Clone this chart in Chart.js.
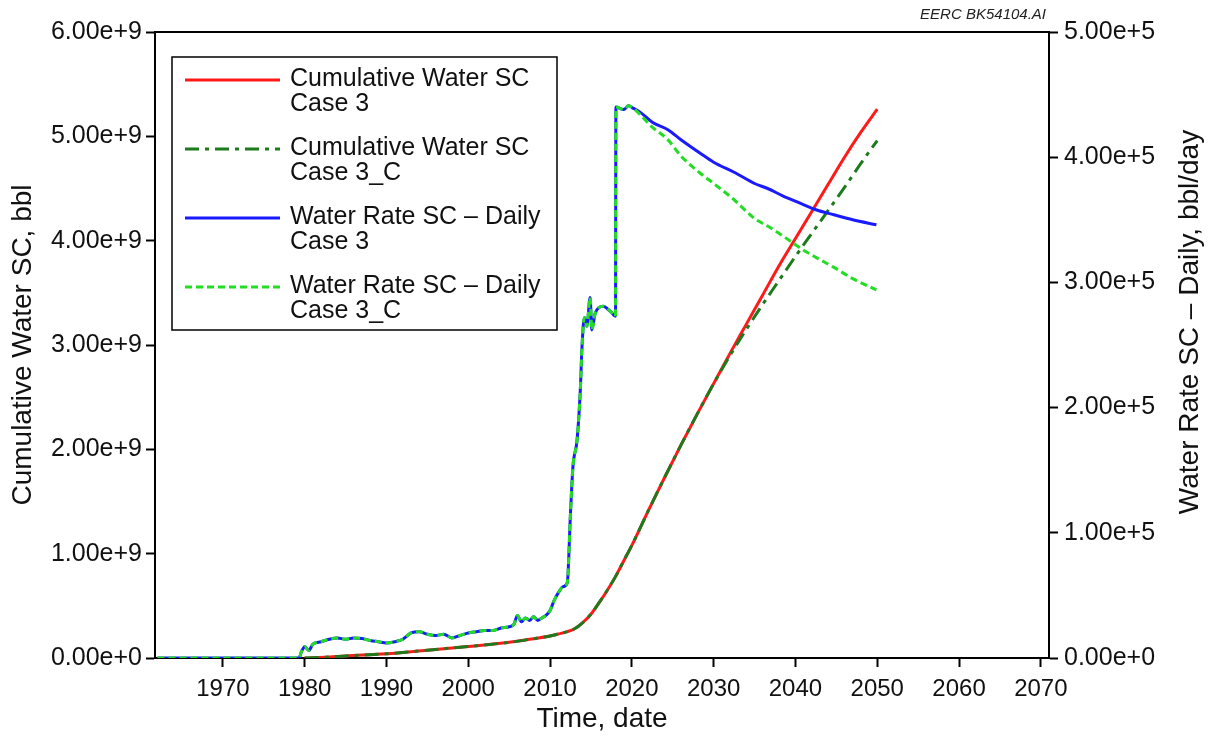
<!DOCTYPE html>
<html lang="en">
<head>
  <meta charset="UTF-8">
  <title>Cumulative Water SC and Water Rate SC</title>
  <script src="https://cdn.jsdelivr.net/npm/chart.js"></script>
  <style>
    html, body { margin: 0; padding: 0; background: #fff; }
    #chart { display: block; }
  </style>
</head>
<body>
  <canvas id="chart" width="1213" height="740"></canvas>

  <script>
    // Cumulative water (left axis, bbl)
    var cumYears = [1980, 1983, 1985, 1990, 1995, 2000, 2005, 2008, 2010, 2011, 2012, 2013, 2014, 2015, 2016, 2017, 2018, 2019, 2020, 2022, 2024, 2026, 2028, 2030, 2032, 2034, 2036, 2038, 2040, 2042, 2044, 2046, 2048, 2050];
    var cumCase3 = [0, 0.01e9, 0.02e9, 0.04e9, 0.075e9, 0.11e9, 0.15e9, 0.185e9, 0.21e9, 0.23e9, 0.25e9, 0.28e9, 0.34e9, 0.42e9, 0.53e9, 0.65e9, 0.78e9, 0.93e9, 1.08e9, 1.41e9, 1.73e9, 2.04e9, 2.34e9, 2.63e9, 2.92e9, 3.20e9, 3.48e9, 3.76e9, 4.02e9, 4.28e9, 4.54e9, 4.80e9, 5.04e9, 5.26e9];
    var cumCase3C = [0, 0.01e9, 0.02e9, 0.04e9, 0.075e9, 0.11e9, 0.15e9, 0.185e9, 0.21e9, 0.23e9, 0.25e9, 0.28e9, 0.34e9, 0.42e9, 0.53e9, 0.65e9, 0.78e9, 0.93e9, 1.08e9, 1.41e9, 1.73e9, 2.04e9, 2.34e9, 2.63e9, 2.90e9, 3.15e9, 3.39e9, 3.62e9, 3.85e9, 4.07e9, 4.29e9, 4.51e9, 4.74e9, 4.96e9];

    // Daily water rate (right axis, bbl/day)
    var rateYears = [1962, 1979.3, 1979.6, 1980, 1980.5, 1981, 1982, 1983, 1984, 1985, 1986, 1987, 1988, 1989, 1990, 1991, 1992, 1993, 1994, 1995, 1996, 1997, 1998, 1999, 2000, 2001, 2002, 2003, 2004, 2005, 2005.6, 2006, 2006.5, 2007, 2007.5, 2008, 2008.5, 2009, 2009.5, 2010, 2010.5, 2011, 2011.6, 2012.1, 2012.5, 2012.8, 2013.3, 2013.7, 2013.9, 2014.2, 2014.5, 2014.9, 2015.1, 2015.5, 2016, 2016.5, 2017, 2017.5, 2018, 2018.05, 2019, 2019.6, 2020.2, 2021, 2022.5, 2024.4, 2026, 2028.4, 2030, 2032.5, 2035, 2036.6, 2038.5, 2040.7, 2042.5, 2044.7, 2047, 2049.9];
    var rateCase3 = [0, 0, 5000, 9000, 6000, 11000, 13000, 15000, 16000, 15000, 16000, 15500, 14000, 13000, 12000, 13000, 15000, 20000, 21000, 19000, 18000, 19000, 16000, 18000, 20000, 21000, 22000, 22000, 24000, 25000, 27000, 34000, 29000, 32000, 30000, 33000, 30000, 32000, 34000, 38000, 46000, 52000, 57000, 60000, 116000, 153000, 174000, 214000, 248000, 272000, 265000, 288000, 262000, 275000, 280000, 281000, 279000, 276000, 273000, 440000, 438000, 441000, 439000, 436000, 428000, 422000, 414000, 403000, 396000, 388000, 379000, 375000, 369000, 363000, 358000, 354000, 350000, 346000];
    var rateCase3C = [0, 0, 5000, 9000, 6000, 11000, 13000, 15000, 16000, 15000, 16000, 15500, 14000, 13000, 12000, 13000, 15000, 20000, 21000, 19000, 18000, 19000, 16000, 18000, 20000, 21000, 22000, 22000, 24000, 25000, 27000, 34000, 29000, 32000, 30000, 33000, 30000, 32000, 34000, 38000, 46000, 52000, 57000, 60000, 116000, 153000, 174000, 214000, 248000, 272000, 265000, 288000, 262000, 275000, 280000, 281000, 279000, 276000, 273000, 440000, 438000, 441000, 439000, 434000, 424000, 414000, 401000, 387000, 379000, 366000, 351000, 345000, 337000, 327000, 320000, 312000, 303000, 294000];

    var xTicks = [1970, 1980, 1990, 2000, 2010, 2020, 2030, 2040, 2050, 2060, 2070];

    var FONT = "'Liberation Sans', Arial, sans-serif";
    var rightTitle = 'Water Rate SC \u2013 Daily, bbl/day';

    function pairs(xs, ys) {
      return xs.map(function(x, i) { return { x: x, y: ys[i] }; });
    }

    // top frame line, legend box, right axis title and drawing id
    var extras = {
      id: 'extras',
      afterDraw: function(chart) {
        var c = chart.ctx;
        var area = chart.chartArea;
        c.save();
        c.strokeStyle = '#000';
        c.lineWidth = 2;
        c.beginPath();
        c.moveTo(area.left - 1, area.top);
        c.lineTo(area.right + 1, area.top);
        c.stroke();

        // legend
        var bx = 172, by = 57, bw = 385, bh = 273;
        c.fillStyle = '#fff';
        c.fillRect(bx, by, bw, bh);
        c.lineWidth = 1.5;
        c.strokeRect(bx, by, bw, bh);
        c.font = '25px ' + FONT;
        c.textBaseline = 'middle';
        c.textAlign = 'left';
        chart.data.datasets.forEach(function(ds, i) {
          var rowY = 79 + i * 69;
          c.strokeStyle = ds.borderColor;
          c.lineWidth = ds.borderWidth;
          c.setLineDash(ds.borderDash || []);
          c.beginPath();
          c.moveTo(185, rowY + 1);
          c.lineTo(280, rowY + 1);
          c.stroke();
          c.setLineDash([]);
          c.fillStyle = '#111';
          ds.label.split('\n').forEach(function(line, j) {
            c.fillText(line, 290, rowY + j * 25);
          });
        });

        // right title reads bottom-to-top like the left one
        c.save();
        c.translate(1190, 322);
        c.rotate(-Math.PI / 2);
        c.font = '28px ' + FONT;
        c.textAlign = 'center';
        c.fillText(rightTitle, 0, 0);
        c.restore();

        c.font = 'italic 15px ' + FONT;
        c.textAlign = 'right';
        c.fillStyle = '#222';
        c.fillText('EERC BK54104.AI', 1046, 15);
        c.restore();
      }
    };

    var axisGrid = { drawOnChartArea: false, drawTicks: true, tickLength: 9, tickColor: '#000', tickWidth: 2 };
    var axisBorder = { display: true, color: '#000', width: 2 };

    new Chart(document.getElementById('chart').getContext('2d'), {
      type: 'line',
      data: {
        datasets: [
          {
            label: 'Cumulative Water SC\nCase 3',
            data: pairs(cumYears, cumCase3),
            yAxisID: 'y',
            borderColor: '#ff1a1a',
            borderWidth: 3,
            order: 3
          },
          {
            label: 'Cumulative Water SC\nCase 3_C',
            data: pairs(cumYears, cumCase3C),
            yAxisID: 'y',
            borderColor: '#1d7a1d',
            borderWidth: 3,
            borderDash: [14, 6, 4, 6],
            order: 2
          },
          {
            label: 'Water Rate SC \u2013 Daily\nCase 3',
            data: pairs(rateYears, rateCase3),
            yAxisID: 'y1',
            borderColor: '#1a1aff',
            borderWidth: 3,
            order: 1
          },
          {
            label: 'Water Rate SC \u2013 Daily\nCase 3_C',
            data: pairs(rateYears, rateCase3C),
            yAxisID: 'y1',
            borderColor: '#22dd22',
            borderWidth: 3,
            borderDash: [7, 4],
            order: 0
          }
        ]
      },
      options: {
        responsive: false,
        animation: false,
        layout: { padding: { top: 32, left: 0, right: 0, bottom: 0 } },
        elements: {
          point: { radius: 0 },
          line: { tension: 0, cubicInterpolationMode: 'monotone', fill: false }
        },
        plugins: {
          legend: { display: false },
          tooltip: { enabled: false }
        },
        scales: {
          x: {
            type: 'linear',
            min: 1961.7,
            max: 2071,
            afterFit: function(s) { s.height = 82; },
            afterBuildTicks: function(s) { s.ticks = xTicks.map(function(v) { return { value: v }; }); },
            ticks: {
              callback: function(v) { return String(v); },
              font: { family: FONT, size: 24 },
              color: '#111',
              padding: 8,
              maxRotation: 0,
              autoSkip: false
            },
            grid: axisGrid,
            border: axisBorder,
            title: {
              display: true,
              text: 'Time, date',
              font: { family: FONT, size: 28 },
              color: '#111',
              padding: { top: 0, bottom: 4 }
            }
          },
          y: {
            position: 'left',
            min: 0,
            max: 6e9,
            afterFit: function(s) { s.width = 155; },
            ticks: {
              stepSize: 1e9,
              callback: function(v) { return Number(v).toExponential(2); },
              font: { family: FONT, size: 25 },
              color: '#111',
              padding: 4
            },
            grid: axisGrid,
            border: axisBorder,
            title: {
              display: true,
              text: 'Cumulative Water SC, bbl',
              font: { family: FONT, size: 28 },
              color: '#111',
              padding: { top: 6, bottom: 0 }
            }
          },
          y1: {
            position: 'right',
            min: 0,
            max: 5e5,
            afterFit: function(s) { s.width = 164; },
            ticks: {
              stepSize: 1e5,
              callback: function(v) { return Number(v).toExponential(2); },
              font: { family: FONT, size: 25 },
              color: '#111',
              padding: 6
            },
            grid: axisGrid,
            border: axisBorder,
            title: { display: false }
          }
        }
      },
      plugins: [extras]
    });
  </script>
</body>
</html>
